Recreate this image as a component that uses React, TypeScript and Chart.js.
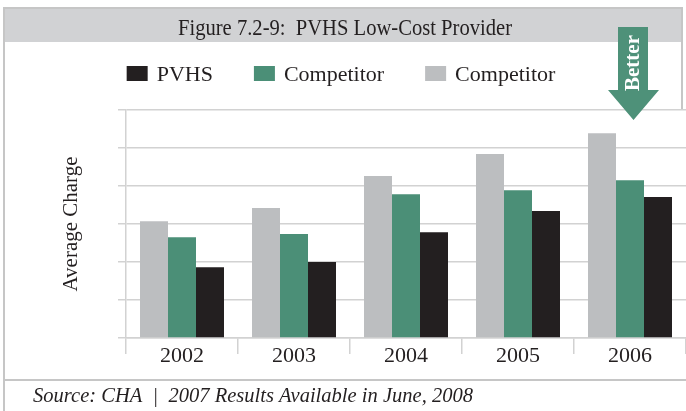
import React, { useEffect, useRef } from 'react';
import { Chart, registerables } from 'chart.js';

Chart.register(...registerables);

// ---- data ----
const years = ['2002', '2003', '2004', '2005', '2006'];
const competitorGray = [3.07, 3.42, 4.26, 4.84, 5.39];
const competitorGreen = [2.65, 2.74, 3.78, 3.89, 4.15];
const pvhs = [1.86, 2.0, 2.78, 3.34, 3.71];
const seriesLabels = ['Competitor', 'Competitor', 'PVHS'];
const yMax = 6; // unlabeled gridlines every 1 unit
const titleText = 'Figure 7.2-9:  PVHS Low-Cost Provider';
const footerText = 'Source: CHA  |  2007 Results Available in June, 2008';
const yAxisTitle = 'Average Charge';
const arrowText = 'Better';

const FONT = '"Liberation Serif", "Times New Roman", serif';
const TEXT = '#231f20';
const GRID = '#d2d2d2';
const FRAME = '#c6c6c6';
const GREEN = '#4b8f77';
const GRAY = '#bcbec0';

// draws text condensed horizontally so it fills a given width (mimics a condensed serif face)
function fittedText(ctx: any, text: string, left: number, baseline: number, font: string, width: number) {
  ctx.save();
  ctx.font = font;
  const w = ctx.measureText(text).width;
  const s = Math.min(1, width / w);
  ctx.translate(left, baseline);
  ctx.scale(s, 1);
  ctx.textAlign = 'left';
  ctx.textBaseline = 'alphabetic';
  ctx.fillText(text, 0, 0);
  ctx.restore();
}

const decorations = {
  id: 'decorations',
  beforeDraw(chart: any) {
    const ctx = chart.ctx;
    ctx.save();
    ctx.fillStyle = '#ffffff';
    ctx.fillRect(0, 0, chart.width, chart.height);
    // title band
    ctx.fillStyle = '#d1d2d4';
    ctx.fillRect(4, 8, 678, 34);
    // frame
    ctx.strokeStyle = FRAME;
    ctx.lineWidth = 2;
    ctx.beginPath();
    ctx.moveTo(4, 411);
    ctx.lineTo(4, 8);
    ctx.lineTo(682, 8);
    ctx.lineTo(682, 110);
    ctx.moveTo(4, 380);
    ctx.lineTo(686, 380);
    ctx.stroke();
    ctx.fillStyle = TEXT;
    // title
    fittedText(ctx, titleText, 178, 35, `23px ${FONT}`, 334);
    // footer
    fittedText(ctx, footerText, 33, 402, `italic 22px ${FONT}`, 440);
    ctx.restore();
  },
  afterDraw(chart: any) {
    const ctx = chart.ctx;
    ctx.save();
    // legend (reverse dataset order)
    const items = chart.data.datasets
      .map((d: any) => ({ label: d.label, color: d.backgroundColor }))
      .reverse();
    ctx.font = `22px ${FONT}`;
    const boxW = 21, boxH = 15, gap = 9, spacing = 41;
    const total =
      items.reduce((s: number, it: any) => s + boxW + gap + ctx.measureText(it.label).width, 0) +
      spacing * (items.length - 1);
    let x = 341 - total / 2;
    ctx.textAlign = 'left';
    ctx.textBaseline = 'alphabetic';
    for (const it of items) {
      ctx.fillStyle = it.color;
      ctx.fillRect(x, 66, boxW, boxH);
      ctx.fillStyle = TEXT;
      ctx.fillText(it.label, x + boxW + gap, 81);
      x += boxW + gap + ctx.measureText(it.label).width + spacing;
    }
    // "Better" arrow
    ctx.fillStyle = '#4e9179';
    ctx.beginPath();
    ctx.moveTo(618, 27);
    ctx.lineTo(648, 27);
    ctx.lineTo(648, 90);
    ctx.lineTo(659, 90);
    ctx.lineTo(633.5, 120);
    ctx.lineTo(608, 90);
    ctx.lineTo(618, 90);
    ctx.closePath();
    ctx.fill();
    ctx.translate(633, 63);
    ctx.rotate(-Math.PI / 2);
    ctx.fillStyle = '#ffffff';
    ctx.font = `bold 21px ${FONT}`;
    ctx.textAlign = 'center';
    ctx.textBaseline = 'middle';
    ctx.fillText(arrowText, 0, 1);
    ctx.restore();
  },
};

export default function App() {
  const ref = useRef<HTMLCanvasElement | null>(null);

  useEffect(() => {
    if (!ref.current) return;
    const chart = new Chart(ref.current, {
      type: 'bar',
      data: {
        labels: years,
        datasets: [
          { label: seriesLabels[0], data: competitorGray, backgroundColor: GRAY },
          { label: seriesLabels[1], data: competitorGreen, backgroundColor: GREEN },
          { label: seriesLabels[2], data: pvhs, backgroundColor: TEXT },
        ],
      },
      options: {
        animation: false,
        responsive: false,
        devicePixelRatio: 1,
        layout: { padding: { top: 110, left: 0, right: 0, bottom: 31 } },
        datasets: { bar: { barPercentage: 1, categoryPercentage: 0.75 } },
        plugins: {
          legend: { display: false },
          title: { display: false },
          tooltip: { enabled: false },
        },
        scales: {
          x: {
            grid: {
              display: true,
              drawOnChartArea: false,
              drawTicks: true,
              tickLength: 16,
              color: GRID,
              lineWidth: 1.5,
              offset: true,
            },
            border: { display: true, color: GRID, width: 1.5 },
            ticks: {
              color: TEXT,
              font: { family: FONT, size: 22 },
              padding: -11,
            },
            afterFit(scale: any) {
              scale.height = 42;
            },
          },
          y: {
            min: 0,
            max: yMax,
            ticks: { display: false, stepSize: 1 },
            grid: { color: GRID, lineWidth: 1.5, drawTicks: true, tickLength: 8 },
            border: { display: true, color: GRID, width: 1.5 },
            title: {
              display: true,
              text: yAxisTitle,
              color: TEXT,
              font: { family: FONT, size: 21 },
              padding: { top: 59, bottom: 0 },
            },
            afterFit(scale: any) {
              scale.width = 126;
            },
          },
        },
      },
      plugins: [decorations],
    });
    return () => chart.destroy();
  }, []);

  return (
    <div
      style={{
        position: 'fixed',
        left: 0,
        top: 0,
        width: 686,
        height: 411,
        background: '#fff',
      }}
    >
      <canvas ref={ref} width={686} height={411} style={{ width: 686, height: 411, display: 'block' }} />
    </div>
  );
}
